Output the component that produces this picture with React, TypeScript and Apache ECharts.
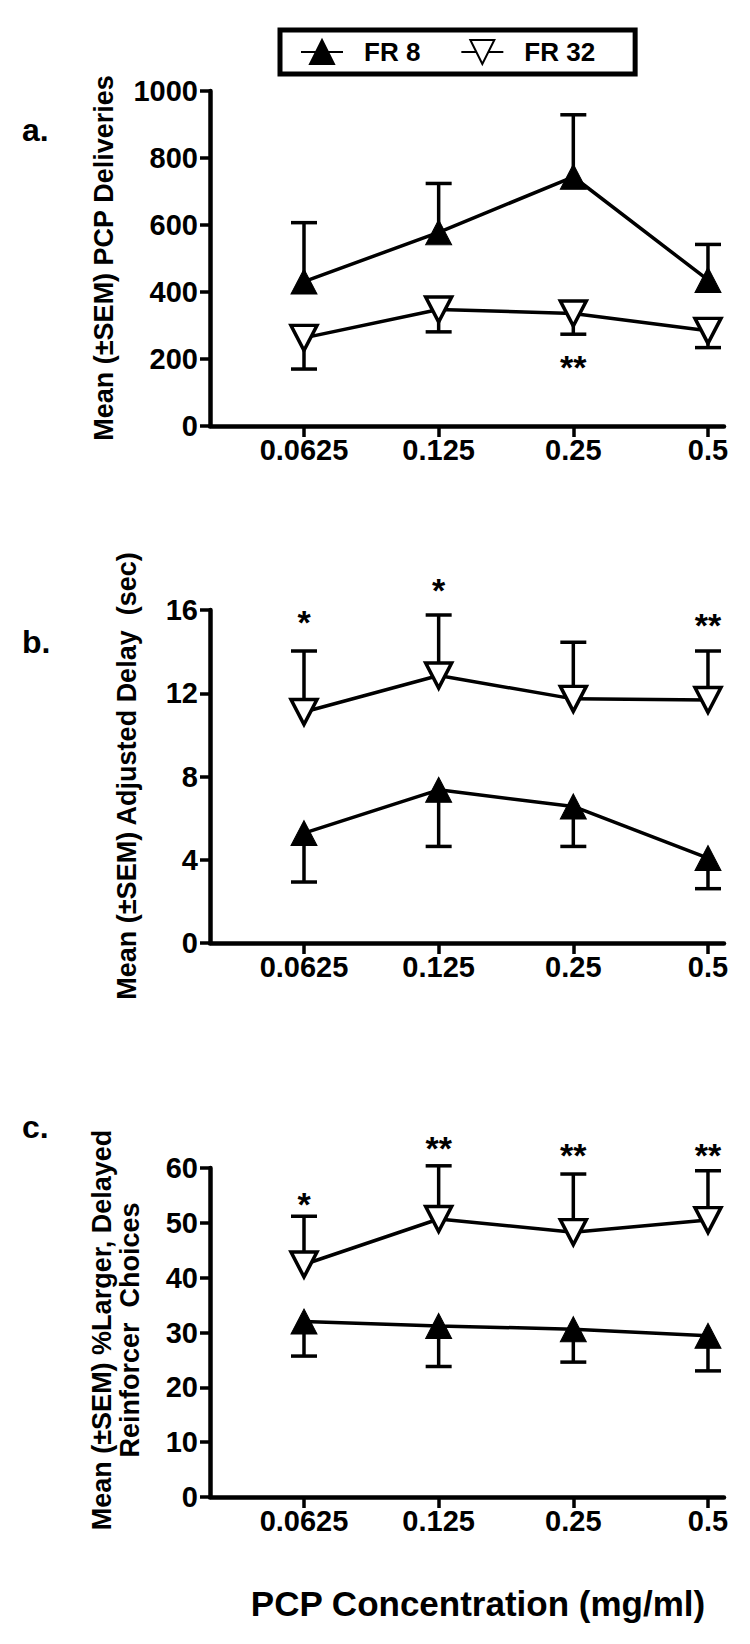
import React, { useEffect, useRef } from "react";
import * as echarts from "echarts";

// ---------- data ----------
const concentrations = ["0.0625", "0.125", "0.25", "0.5"];
const xPositions = [0, 1, 2, 3];

// Panel a: PCP deliveries
const aFR8Mean = [431, 578, 744, 436];
const aFR8Sem = [176, 146, 185, 106];
const aFR32Mean = [263, 348, 336, 284];
const aFR32Sem = [93, 67, 62, 50];
const aStarText = ["**"];
const aStarX = [2];
const aStarY = [198];

// Panel b: adjusted delay (sec)
const bFR8Mean = [5.28, 7.36, 6.56, 4.08];
const bFR8Sem = [2.35, 2.72, 1.92, 1.47];
const bFR32Mean = [11.1, 12.85, 11.73, 11.68];
const bFR32Sem = [2.93, 2.91, 2.72, 2.35];
const bStarText = ["*", "*", "**"];
const bStarX = [0, 1, 3];
const bStarY = [15.76, 17.28, 15.6];

// Panel c: % larger, delayed reinforcer choices
const cFR8Mean = [32.0, 31.2, 30.6, 29.4];
const cFR8Sem = [6.3, 7.4, 6.0, 6.4];
const cFR32Mean = [42.4, 50.7, 48.3, 50.5];
const cFR32Sem = [8.8, 9.7, 10.6, 9.0];
const cStarText = ["*", "**", "**", "**"];
const cStarX = [0, 1, 2, 3];
const cStarY = [54.8, 65, 63.6, 63.6];

// axis ranges [min, max, interval]
const aYAxis = [0, 1000, 200];
const bYAxis = [0, 16, 4];
const cYAxis = [0, 60, 10];

const panelLetters = ["a.", "b.", "c."];
const yTitles = [
  "Mean (±SEM) PCP Deliveries",
  "Mean (±SEM) Adjusted Delay  (sec)",
  "Mean (±SEM) %Larger, Delayed\nReinforcer  Choices",
];
const xTitle = "PCP Concentration (mg/ml)";
const seriesNames = ["FR 8", "FR 32"];

// ---------- layout ----------
const FONT = '"Liberation Sans", Arial, Helvetica, sans-serif';
const gridLeft = 210;
const gridWidth = 514;
const gridTops = [91, 610, 1168];
const gridHeights = [335, 333, 329];
const xMin = -0.698;
const xMax = 3.119;
const LW = 3.5;

const panels = [
  { y: aYAxis, fr8: aFR8Mean, fr8Sem: aFR8Sem, fr32: aFR32Mean, fr32Sem: aFR32Sem, fr8Dir: 1, fr32Dir: -1, sText: aStarText, sX: aStarX, sY: aStarY },
  { y: bYAxis, fr8: bFR8Mean, fr8Sem: bFR8Sem, fr32: bFR32Mean, fr32Sem: bFR32Sem, fr8Dir: -1, fr32Dir: 1, sText: bStarText, sX: bStarX, sY: bStarY },
  { y: cYAxis, fr8: cFR8Mean, fr8Sem: cFR8Sem, fr32: cFR32Mean, fr32Sem: cFR32Sem, fr8Dir: -1, fr32Dir: 1, sText: cStarText, sX: cStarX, sY: cStarY },
];

function errorSeries(idx: number, means: number[], sems: number[], dir: number, name: string) {
  return {
    type: "custom",
    name,
    xAxisIndex: idx,
    yAxisIndex: idx,
    z: 2,
    silent: true,
    data: means.map((m, k) => [xPositions[k], m, m + dir * sems[k]]),
    renderItem: (params: any, api: any) => {
      const p0 = api.coord([api.value(0), api.value(1)]);
      const p1 = api.coord([api.value(0), api.value(2)]);
      return {
        type: "group",
        children: [
          { type: "line", shape: { x1: p0[0], y1: p0[1], x2: p1[0], y2: p1[1] }, style: { stroke: "#000", lineWidth: LW } },
          { type: "line", shape: { x1: p1[0] - 13, y1: p1[1], x2: p1[0] + 13, y2: p1[1] }, style: { stroke: "#000", lineWidth: LW } },
        ],
      };
    },
  };
}

function starSeries(idx: number, texts: string[], xs: number[], ys: number[]) {
  return {
    type: "custom",
    name: "sig" + idx,
    xAxisIndex: idx,
    yAxisIndex: idx,
    z: 4,
    silent: true,
    data: xs.map((x, k) => [x, ys[k]]),
    renderItem: (params: any, api: any) => {
      const p = api.coord([api.value(0), api.value(1)]);
      return {
        type: "text",
        x: p[0],
        y: p[1] + 7,
        style: {
          text: texts[params.dataIndex],
          fontSize: 34,
          fontWeight: "bold",
          fontFamily: FONT,
          fill: "#000",
          align: "center",
          verticalAlign: "middle",
        },
      };
    },
  };
}

function buildOption() {
  const grid: any[] = [];
  const xAxis: any[] = [];
  const yAxis: any[] = [];
  const series: any[] = [];

  panels.forEach((p, i) => {
    grid.push({ left: gridLeft, top: gridTops[i], width: gridWidth, height: gridHeights[i], containLabel: false });
    xAxis.push({
      type: "value",
      gridIndex: i,
      min: xMin,
      max: xMax,
      splitLine: { show: false },
      axisLine: { show: true, onZero: false, lineStyle: { color: "#000", width: 4.5 } },
      axisTick: { show: true, customValues: xPositions, length: 11, lineStyle: { color: "#000", width: 3.5 } },
      axisLabel: {
        show: true,
        customValues: xPositions,
        formatter: (v: number) => concentrations[Math.round(v)] ?? "",
        margin: 9,
        fontSize: 29,
        fontWeight: "bold",
        fontFamily: FONT,
        color: "#000",
      },
    });
    yAxis.push({
      type: "value",
      gridIndex: i,
      min: p.y[0],
      max: p.y[1],
      interval: p.y[2],
      splitLine: { show: false },
      axisLine: { show: true, onZero: false, lineStyle: { color: "#000", width: 4.5 } },
      axisTick: { show: true, length: 10, lineStyle: { color: "#000", width: 3.5 } },
      axisLabel: {
        margin: 12,
        fontSize: 29,
        fontWeight: "bold",
        fontFamily: FONT,
        color: "#000",
        formatter: (v: number) => String(v),
      },
    });

    series.push(errorSeries(i, p.fr8, p.fr8Sem, p.fr8Dir, "FR 8 SEM " + i));
    series.push(errorSeries(i, p.fr32, p.fr32Sem, p.fr32Dir, "FR 32 SEM " + i));
    series.push({
      name: seriesNames[0],
      type: "line",
      xAxisIndex: i,
      yAxisIndex: i,
      z: 3,
      data: p.fr8.map((v, k) => [xPositions[k], v]),
      symbol: "triangle",
      symbolSize: [26, 25],
      showAllSymbol: true,
      itemStyle: { color: "#000", borderColor: "#000", borderWidth: 1 },
      lineStyle: { color: "#000", width: LW },
      emphasis: { disabled: true },
    });
    series.push({
      name: seriesNames[1],
      type: "line",
      xAxisIndex: i,
      yAxisIndex: i,
      z: 3,
      data: p.fr32.map((v, k) => [xPositions[k], v]),
      symbol: "triangle",
      symbolRotate: 180,
      symbolSize: [26, 25],
      showAllSymbol: true,
      itemStyle: { color: "#fff", borderColor: "#000", borderWidth: 3.5 },
      lineStyle: { color: "#000", width: LW },
      emphasis: { disabled: true },
    });
    series.push(starSeries(i, p.sText, p.sX, p.sY));
  });

  const letterY = [130, 642, 1127];
  const titleX = [104, 127, 116];
  const titleY = [258, 776, 1330];
  const graphic: any[] = [];
  panelLetters.forEach((t, i) => {
    graphic.push({
      type: "text",
      x: 22,
      y: letterY[i],
      style: { text: t, fontSize: 32, fontWeight: "bold", fontFamily: FONT, fill: "#000", align: "left", verticalAlign: "middle" },
    });
  });
  yTitles.forEach((t, i) => {
    graphic.push({
      type: "text",
      x: titleX[i],
      y: titleY[i],
      rotation: Math.PI / 2,
      style: {
        text: t,
        fontSize: 27,
        fontWeight: "bold",
        fontFamily: FONT,
        fill: "#000",
        align: "center",
        verticalAlign: "middle",
        lineHeight: 28,
      },
    });
  });
  graphic.push({
    type: "text",
    x: 478,
    y: 1603,
    style: {
      text: xTitle,
      fontSize: 35,
      fontWeight: "bold",
      fontFamily: FONT,
      fill: "#000",
      align: "center",
      verticalAlign: "middle",
    },
  });

  return {
    animation: false,
    backgroundColor: "#fff",
    textStyle: { fontFamily: FONT },
    legend: {
      data: seriesNames,
      left: 280,
      top: 30,
      orient: "horizontal",
      padding: [9, 40, 9, 20],
      borderColor: "#000",
      borderWidth: 5,
      itemWidth: 42,
      itemHeight: 30,
      itemGap: 40,
      selectedMode: false,
      textStyle: { fontSize: 26, fontWeight: "bold", fontFamily: FONT, color: "#000", padding: [0, 0, 0, 16] },
    },
    grid,
    xAxis,
    yAxis,
    series,
    graphic,
  };
}

export default function App() {
  const ref = useRef<HTMLDivElement>(null);
  useEffect(() => {
    if (!ref.current) return;
    const chart = echarts.init(ref.current, null, { renderer: "svg" });
    chart.setOption(buildOption() as any);
    return () => chart.dispose();
  }, []);
  return (
    <div
      ref={ref}
      style={{ position: "absolute", left: 0, top: 0, width: 750, height: 1644, background: "#fff" }}
    />
  );
}
